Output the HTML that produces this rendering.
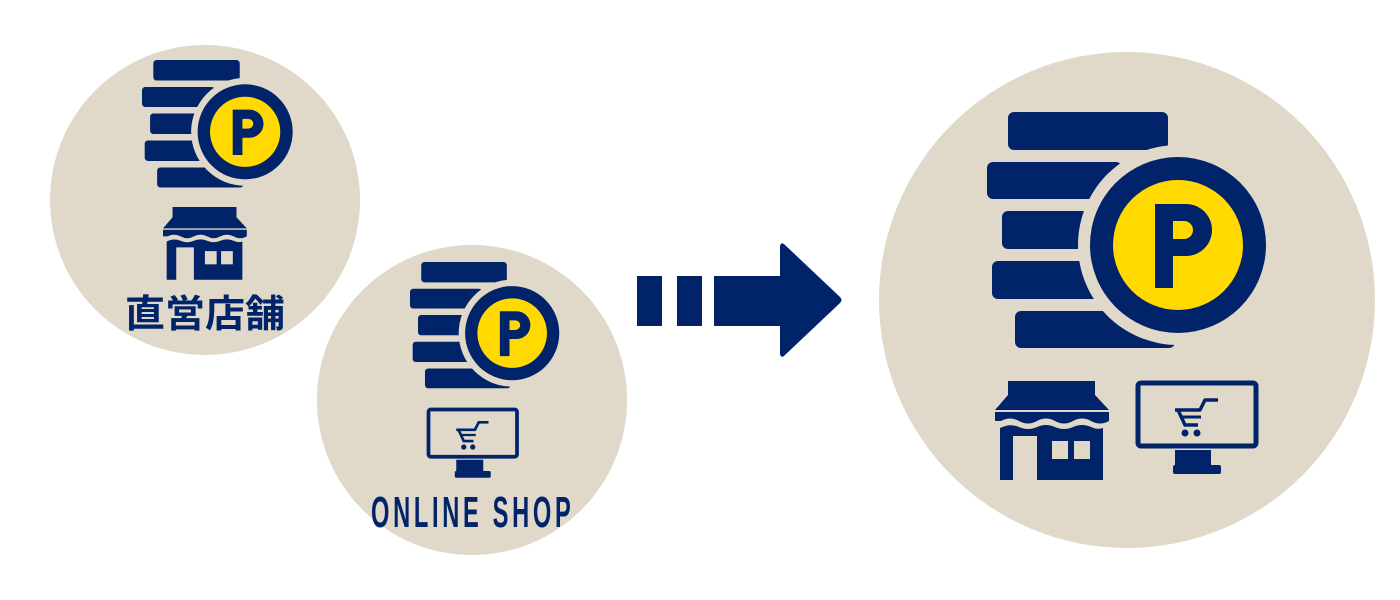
<!DOCTYPE html>
<html><head><meta charset="utf-8"><style>
html,body{margin:0;padding:0;background:#fff;}
svg{display:block}
</style></head><body>
<svg width="1400" height="600" viewBox="0 0 1400 600" xmlns="http://www.w3.org/2000/svg">
<defs>
<g id="coin">
  <rect x="1008" y="112" width="160" height="38" rx="6" fill="#002369"/>
  <rect x="987" y="162" width="135" height="37" rx="6" fill="#002369"/>
  <rect x="1002" y="211" width="100" height="38" rx="6" fill="#002369"/>
  <rect x="992" y="261" width="110" height="38" rx="6" fill="#002369"/>
  <rect x="1015" y="311" width="160" height="37" rx="6" fill="#002369"/>
  <circle cx="1178" cy="245" r="100" fill="#e0d8c8"/>
  <circle cx="1178" cy="245" r="88" fill="#002369"/>
  <circle cx="1178" cy="245" r="65" fill="#ffd900"/>
  <path fill-rule="evenodd" fill="#002369" d="M1155,204 H1186 A26,26 0 0 1 1186,256 H1173 V288 H1155 Z M1173,221 H1184 A9,9 0 0 1 1184,239 H1173 Z"/>
</g>
<g id="store">
  <path d="M1008,381 H1095 V395 L1109,410 H995 L1008,395 Z" fill="#002369"/>
  <path d="M995,412 H1109 V421 Q1100,426 1091,421 Q1082,416 1073,421 Q1064,426 1055,421 Q1046,416 1037,421 Q1028,426 1019,421 Q1010,416 1001,421 L995,421 Z" fill="#002369"/>
  <path d="M1000,428 Q1010,423 1019,427 Q1028,431 1037,427 Q1046,423 1055,427 Q1064,431 1073,427 Q1082,423 1091,427 Q1097,430 1103,428 V480 H1037 V436 H1013 V480 H1000 Z" fill="#002369"/>
  <rect x="1052" y="441" width="16" height="18" fill="#e0d8c8"/>
  <rect x="1074" y="441" width="16" height="18" fill="#e0d8c8"/>
</g>
<g id="monitor">
  <rect x="1138" y="383" width="118" height="63" rx="3" fill="none" stroke="#002369" stroke-width="5"/>
  <rect x="1175" y="450" width="36" height="16" fill="#002369"/>
  <rect x="1173" y="465" width="48" height="9" rx="2" fill="#002369"/>
  <path d="M1175,410 H1200 L1205,400 H1218" fill="none" stroke="#002369" stroke-width="3.5" stroke-linejoin="round"/>
  <path d="M1178,410 L1185,425 H1198" fill="none" stroke="#002369" stroke-width="3.5"/>
  <line x1="1180" y1="417" x2="1201" y2="417" stroke="#002369" stroke-width="3"/>
  <circle cx="1185" cy="433" r="3.5" fill="#002369"/>
  <circle cx="1197" cy="433" r="3.5" fill="#002369"/>
</g>
</defs>

<circle cx="205" cy="200" r="155" fill="#e0d8c8"/>
<circle cx="472" cy="400" r="155" fill="#e0d8c8"/>
<circle cx="1127" cy="300" r="248" fill="#e0d8c8"/>

<use href="#coin"/>
<use href="#store"/>
<use href="#monitor"/>

<use href="#coin" transform="translate(142,60) scale(0.54) translate(-987,-112)"/>
<use href="#store" transform="translate(163,207) scale(0.735) translate(-995,-381)"/>
<use href="#coin" transform="translate(410,262) scale(0.535) translate(-987,-112)"/>
<use href="#monitor" transform="translate(427,408) scale(0.75) translate(-1136,-381)"/>

<text x="125" y="327" font-family="'Liberation Sans','Noto Sans CJK JP',sans-serif" font-weight="bold" font-size="38" fill="#002369" textLength="160" lengthAdjust="spacingAndGlyphs">直営店舗</text>
<g transform="translate(371,527) scale(0.55,1.02)">
<text x="0" y="0" font-family="'Liberation Sans',sans-serif" font-weight="bold" font-size="43" fill="#002369" letter-spacing="6.7">ONLINE SHOP</text>
</g>

<rect x="637" y="276" width="25" height="50" fill="#002369"/>
<rect x="677" y="276" width="25" height="50" fill="#002369"/>
<path d="M714,276 H780 V246 Q781,241 785,245 L840,297 Q843,300 840,303 L785,355 Q781,359 780,354 V326 H714 Z" fill="#002369"/>
</svg>
</body></html>
